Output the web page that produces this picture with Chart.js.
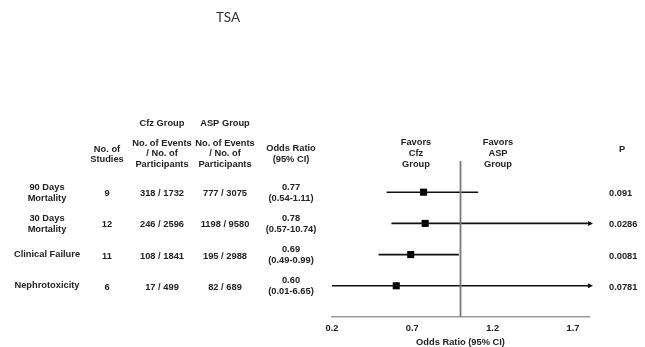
<!DOCTYPE html>
<html>
<head>
<meta charset="utf-8">
<script src="https://cdn.jsdelivr.net/npm/chart.js@4"></script>
<style>
  body { margin: 0; background: #fff; }
  #wrap { width: 645px; height: 347px; position: relative; }
</style>
</head>
<body>
<div id="wrap"><canvas id="forest"></canvas></div>
<script>
// Данные
const outcomes = [['90 Days', 'Mortality'], ['30 Days', 'Mortality'], ['Clinical Failure'], ['Nephrotoxicity']];
const studies = [9, 12, 11, 6];
const cfzEvents = [318, 246, 108, 17];
const cfzTotal = [1732, 2596, 1841, 499];
const aspEvents = [777, 1198, 195, 82];
const aspTotal = [3075, 9580, 2988, 689];
const oddsRatio = [0.77, 0.78, 0.69, 0.60];
const ciLow = [0.54, 0.57, 0.49, 0.01];
const ciHigh = [1.11, 10.74, 0.99, 6.65];
const pValues = ['0.091', '0.0286', '0.0081', '0.0781'];
const xTicks = [0.2, 0.7, 1.2, 1.7];
const xMin = 0.2, xMax = 1.8;

const FONT = '"Liberation Sans", Arial, sans-serif';
const INK = '#222';

// Усы: обрезаем по границам шкалы, стрелка дорисовывается плагином
const whiskers = outcomes.map((o, i) => ({
    type: 'line',
    data: [{ x: Math.max(ciLow[i], xMin), y: i }, { x: Math.min(ciHigh[i], xMax), y: i }],
    borderColor: '#111',
    borderWidth: 1.6,
    pointRadius: 0,
    showLine: true
}));

const tablePlugin = {
    id: 'forestTable',
    afterDraw(chart) {
        const ctx = chart.ctx;
        const ys = chart.scales.y;
        const xs = chart.scales.x;
        const txt = (s, x, y, align = 'center', font = 'bold 9.3px ' + FONT, color = INK) => {
            ctx.font = font;
            ctx.fillStyle = color;
            ctx.textAlign = align;
            ctx.textBaseline = 'middle';
            ctx.fillText(s, x, y);
        };
        ctx.save();

        // Заголовок
        txt('TSA', 228, 18, 'center', '13.5px Lato, "Open Sans", sans-serif', '#333');

        // Шапка таблицы
        txt('Cfz Group', 162, 123);
        txt('ASP Group', 225, 123);
        ['No. of Events', '/ No. of', 'Participants'].forEach((s, k) => {
            txt(s, 162, 143 + k * 10.5);
            txt(s, 225, 143 + k * 10.5);
        });
        txt('No. of', 107, 149);
        txt('Studies', 107, 159.5);
        txt('Odds Ratio', 291, 148.5);
        txt('(95% CI)', 291, 159.5);
        ['Favors', 'Cfz', 'Group'].forEach((s, k) => txt(s, 416, 142 + k * 11));
        ['Favors', 'ASP', 'Group'].forEach((s, k) => txt(s, 498, 142 + k * 11));
        txt('P', 622, 149);

        // Строки
        outcomes.forEach((lab, i) => {
            const y = ys.getPixelForValue(i) + 0.5;
            if (lab.length > 1) {
                txt(lab[0], 47, y - 5.5);
                txt(lab[1], 47, y + 6);
            } else {
                txt(lab[0], 47, y - 1);
            }
            txt(String(studies[i]), 107, y + 1);
            txt(cfzEvents[i] + ' / ' + cfzTotal[i], 162, y + 1);
            txt(aspEvents[i] + ' / ' + aspTotal[i], 225, y + 1);
            txt(oddsRatio[i].toFixed(2), 291, y - 5.5);
            txt('(' + ciLow[i].toFixed(2) + '-' + ciHigh[i].toFixed(2) + ')', 291, y + 5.5);
            txt(pValues[i], 609, y + 1, 'left');

            // стрелка, если интервал выходит за шкалу
            if (ciHigh[i] > xMax) {
                const x0 = xs.getPixelForValue(xMax);
                const yy = ys.getPixelForValue(i);
                ctx.strokeStyle = '#111';
                ctx.lineWidth = 1.6;
                ctx.beginPath();
                ctx.moveTo(x0 - 1, yy);
                ctx.lineTo(x0 + 2, yy);
                ctx.stroke();
                ctx.fillStyle = '#111';
                ctx.beginPath();
                ctx.moveTo(x0 + 4, yy);
                ctx.lineTo(x0 - 1, yy - 2.5);
                ctx.lineTo(x0 - 1, yy + 2.5);
                ctx.closePath();
                ctx.fill();
            }
        });
        ctx.restore();
    }
};

document.addEventListener('DOMContentLoaded', function() {
    const ctx = document.getElementById('forest').getContext('2d');
    new Chart(ctx, {
        type: 'scatter',
        data: {
            datasets: [
                {
                    type: 'line',
                    data: [{ x: 1, y: -1 }, { x: 1, y: 4 }],
                    borderColor: '#7a7a7a',
                    borderWidth: 1.8,
                    pointRadius: 0,
                    showLine: true
                },
                ...whiskers,
                {
                    data: oddsRatio.map((v, i) => ({ x: v, y: i })),
                    pointStyle: 'rect',
                    pointRadius: 5,
                    backgroundColor: '#000',
                    borderColor: '#000',
                    borderWidth: 0
                }
            ]
        },
        options: {
            responsive: true,
            maintainAspectRatio: false,
            animation: false,
            events: [],
            layout: { padding: { left: 332, right: 56, top: 161, bottom: 0 } },
            plugins: {
                legend: { display: false },
                tooltip: { enabled: false }
            },
            scales: {
                x: {
                    type: 'linear',
                    min: xMin,
                    max: xMax,
                    afterBuildTicks: s => { s.ticks = xTicks.map(v => ({ value: v })); },
                    afterFit: s => { s.height = 30; },
                    grid: { display: false, drawTicks: false },
                    border: { display: true, color: '#9a9a9a', width: 1.5 },
                    ticks: {
                        padding: 6,
                        color: INK,
                        font: { family: FONT, size: 9.3, weight: 'bold' },
                        callback: v => v.toFixed(1)
                    },
                    title: {
                        display: true,
                        text: 'Odds Ratio (95% CI)',
                        color: INK,
                        font: { family: FONT, size: 9.3, weight: 'bold' },
                        padding: { top: 0, bottom: -1.5 }
                    }
                },
                y: {
                    type: 'linear',
                    display: false,
                    reverse: true,
                    min: -1,
                    max: 4
                }
            }
        },
        plugins: [tablePlugin]
    });
});
</script>
</body>
</html>
